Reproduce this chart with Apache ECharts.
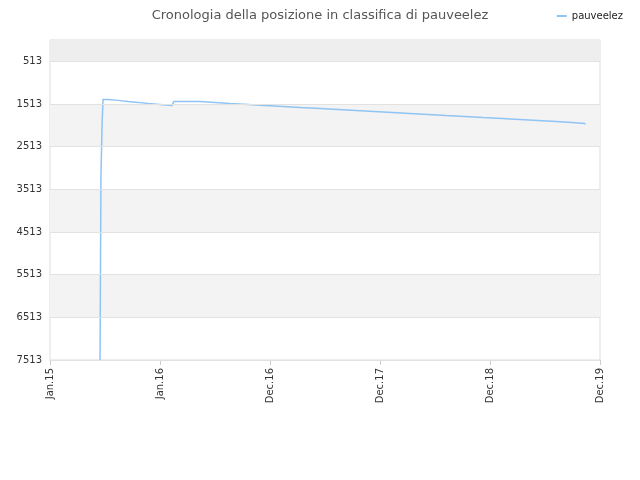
<!DOCTYPE html>
<html>
<head>
<meta charset="UTF-8">
<script src="https://cdn.jsdelivr.net/npm/echarts@6/dist/echarts.min.js"></script>
</head>
<body style="margin:0">
<div id="chart" style="width:640px;height:480px"></div>
<script>
var dates = ['2015-06-16','2015-06-19','2015-06-23','2015-06-26','2015-07-12','2015-08-15','2015-09-17','2015-10-20','2015-11-22','2015-12-31',
    '2016-02-10','2016-02-16','2016-03-21','2016-05-13','2016-07-01','2016-08-20','2016-10-19','2016-12-14','2017-02-12','2017-04-10',
    '2017-06-15','2017-08-14','2017-10-12','2017-12-11','2018-02-09','2018-04-09','2018-06-08','2018-08-07','2018-10-09','2018-12-08',
    '2019-02-09','2019-04-09','2019-06-08','2019-08-07','2019-09-29','2019-11-11'];
var ranks = [7513,3236,1945,1405,1428,1452,1475,1499,1522,1546,
    1570,1452,1452,1475,1499,1522,1546,1570,1593,1616,
    1640,1663,1687,1710,1734,1757,1781,1804,1828,1851,
    1875,1898,1922,1945,1969,1992];
var yTicks = [513, 1513, 2513, 3513, 4513, 5513, 6513, 7513];
var monthNames = ['Jan','Feb','Mar','Apr','May','Jun','Jul','Aug','Sep','Oct','Nov','Dec'];

var data = [];
for (var i = 0; i < dates.length; i++) {
    data.push([Date.parse(dates[i] + 'T00:00:00Z'), ranks[i]]);
}
var day = 86400000;
var xMin = Date.UTC(2015, 0, 1);

var gridLines = yTicks.map(function (t) { return {yAxis: t}; });

var chart = echarts.init(document.getElementById('chart'));
chart.setOption({
    animation: false,
    title: {
        text: 'Cronologia della posizione in classifica di pauveelez',
        left: 'center', top: 4,
        textStyle: {color: '#555', fontSize: 13, fontWeight: 'normal', fontFamily: 'DejaVu Sans'}
    },
    legend: {
        right: 12, top: 6, itemWidth: 10, itemHeight: 2,
        icon: 'rect',
        textStyle: {fontSize: 10, color: '#222', fontFamily: 'DejaVu Sans'},
        data: ['pauveelez']
    },
    grid: {left: 50, right: 40, top: 40, bottom: 120, show: true, borderColor: '#ddd', borderWidth: 1},
    xAxis: {
        type: 'value',
        min: xMin, max: xMin + 5 * 365 * day, interval: 365 * day,
        axisLine: {lineStyle: {color: '#ccc'}},
        axisTick: {show: true, lineStyle: {color: '#ccc'}},
        splitLine: {show: false},
        axisLabel: {
            rotate: 90, color: '#333', fontSize: 10, fontFamily: 'DejaVu Sans',
            formatter: function (v) {
                var d = new Date(v);
                return monthNames[d.getUTCMonth()] + '.' + String(d.getUTCFullYear()).slice(2);
            }
        }
    },
    yAxis: {
        type: 'value', inverse: true,
        min: 13, max: 7513, interval: 500,
        axisLine: {show: false},
        axisTick: {show: false},
        splitLine: {show: false},
        axisLabel: {
            color: '#333', fontSize: 10, fontFamily: 'DejaVu Sans',
            formatter: function (v) { return (v - 513) % 1000 === 0 ? String(v) : ''; }
        }
    },
    series: [{
        name: 'pauveelez',
        type: 'line',
        step: 'end',
        showSymbol: false,
        lineStyle: {color: '#90c4f4', width: 1.5},
        itemStyle: {color: '#90c4f4'},
        data: data,
        z: 3,
        markLine: {
            silent: true, symbol: 'none', label: {show: false},
            lineStyle: {color: '#e2e2e2', type: 'solid', width: 1},
            data: gridLines
        },
        markArea: {
            silent: true,
            itemStyle: {color: '#f3f3f3'},
            data: [
                [{yAxis: 13, itemStyle: {color: '#eeeeee'}}, {yAxis: 513}],
                [{yAxis: 1513}, {yAxis: 2513}],
                [{yAxis: 3513}, {yAxis: 4513}],
                [{yAxis: 5513}, {yAxis: 6513}]
            ]
        }
    }]
});
</script>
</body>
</html>
